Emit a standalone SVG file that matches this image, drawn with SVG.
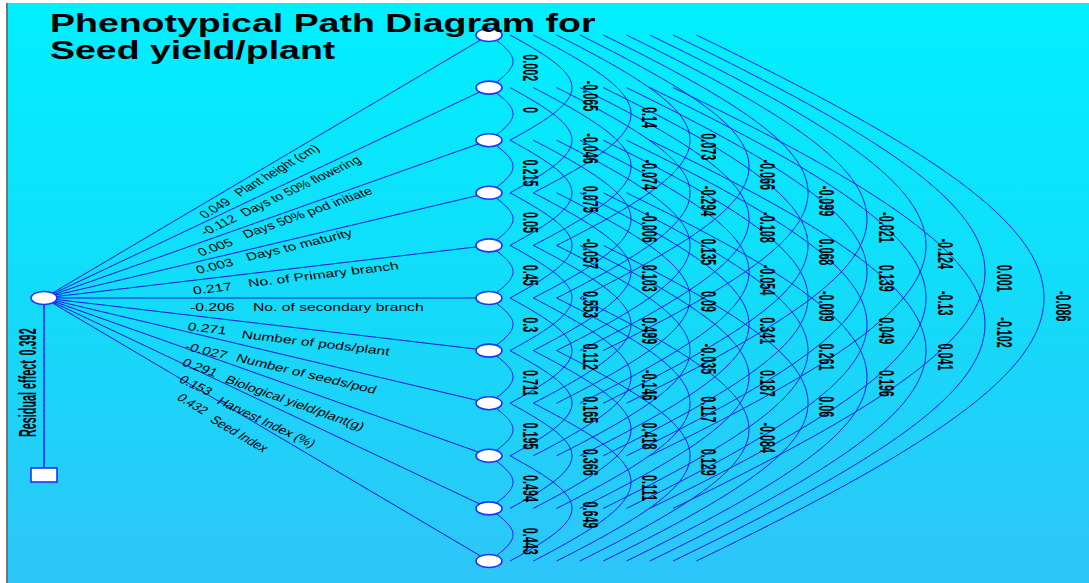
<svg xmlns="http://www.w3.org/2000/svg" width="1089" height="583" viewBox="0 0 1089 583">
<defs>
<linearGradient id="bg" x1="0" y1="0" x2="0" y2="1">
<stop offset="0" stop-color="#00F0FF"/>
<stop offset="0.5" stop-color="#12DCFA"/>
<stop offset="1" stop-color="#2EC5F8"/>
</linearGradient>
<style>
.arc{fill:none;stroke:#1c1ce8;stroke-width:1;stroke-linejoin:round}
.fan{fill:none;stroke:#1414e0;stroke-width:1}
.node{fill:#fff;stroke:#1a34ff;stroke-width:1.6}
.lbl{font-family:"Liberation Sans",Arial,sans-serif;font-size:22px;font-weight:bold;fill:#000}
.side{font-family:"Liberation Sans",Arial,sans-serif;font-size:11.2px;fill:#000}
.title{font-family:"Liberation Sans",Arial,sans-serif;font-size:25.5px;font-weight:bold;fill:#000}
.res{font-family:"Liberation Sans",Arial,sans-serif;font-size:23px;font-weight:bold;fill:#000}
</style>
</defs>
<rect x="0" y="0" width="1089" height="583" fill="#fff"/>
<rect x="8" y="3" width="1081" height="580" fill="url(#bg)"/>
<line x1="7" y1="3" x2="7" y2="583" stroke="#444" stroke-width="1.5"/>

<g id="connectors">
<path class="arc" d="M489 35c32 22.4 32 30.2 0 52.6c32 22.4 32 30.2 0 52.6c32 22.4 32 30.2 0 52.6c32 22.4 32 30.2 0 52.6c32 22.4 32 30.2 0 52.6c32 22.4 32 30.2 0 52.6c32 22.4 32 30.2 0 52.6c32 22.4 32 30.2 0 52.6c32 22.4 32 30.2 0 52.6c32 22.4 32 30.2 0 52.6"/>
<path class="arc" d="M510 35c82.7 44.7 82.7 60.5 0 105.2c82.7 44.7 82.7 60.5 0 105.2c82.7 44.7 82.7 60.5 0 105.2c82.7 44.7 82.7 60.5 0 105.2c82.7 44.7 82.7 60.5 0 105.2M510 87.6c82.7 44.7 82.7 60.5 0 105.2c82.7 44.7 82.7 60.5 0 105.2c82.7 44.7 82.7 60.5 0 105.2c82.7 44.7 82.7 60.5 0 105.2"/>
<path class="arc" d="M533.3 35c130.3 67.1 130.3 90.7 0 157.8c130.3 67.1 130.3 90.7 0 157.8c130.3 67.1 130.3 90.7 0 157.8M533.3 87.6c130.3 67.1 130.3 90.7 0 157.8c130.3 67.1 130.3 90.7 0 157.8c130.3 67.1 130.3 90.7 0 157.8M533.3 140.2c130.3 67.1 130.3 90.7 0 157.8c130.3 67.1 130.3 90.7 0 157.8"/>
<path class="arc" d="M556.6 35c177.9 89.4 177.9 121 0 210.4c177.9 89.4 177.9 121 0 210.4M556.6 87.6c177.9 89.4 177.9 121 0 210.4c177.9 89.4 177.9 121 0 210.4M556.6 140.2c177.9 89.4 177.9 121 0 210.4c177.9 89.4 177.9 121 0 210.4M556.6 192.8c177.9 89.4 177.9 121 0 210.4"/>
<path class="arc" d="M579.9 35c225.5 111.8 225.5 151.2 0 263c225.5 111.8 225.5 151.2 0 263M579.9 87.6c225.5 111.8 225.5 151.2 0 263M579.9 140.2c225.5 111.8 225.5 151.2 0 263M579.9 192.8c225.5 111.8 225.5 151.2 0 263M579.9 245.4c225.5 111.8 225.5 151.2 0 263"/>
<path class="arc" d="M603.2 35c273.1 134.1 273.1 181.5 0 315.6M603.2 87.6c273.1 134.1 273.1 181.5 0 315.6M603.2 140.2c273.1 134.1 273.1 181.5 0 315.6M603.2 192.8c273.1 134.1 273.1 181.5 0 315.6M603.2 245.4c273.1 134.1 273.1 181.5 0 315.6"/>
<path class="arc" d="M626.5 35c320.7 156.5 320.7 211.7 0 368.2M626.5 87.6c320.7 156.5 320.7 211.7 0 368.2M626.5 140.2c320.7 156.5 320.7 211.7 0 368.2M626.5 192.8c320.7 156.5 320.7 211.7 0 368.2"/>
<path class="arc" d="M649.8 35c368.3 178.8 368.3 242 0 420.8M649.8 87.6c368.3 178.8 368.3 242 0 420.8M649.8 140.2c368.3 178.8 368.3 242 0 420.8"/>
<path class="arc" d="M673.1 35c415.9 201.2 415.9 272.2 0 473.4M673.1 87.6c415.9 201.2 415.9 272.2 0 473.4"/>
<path class="arc" d="M696.4 35c463.5 223.6 463.5 302.4 0 526"/>
<path class="fan" d="M44 298L489 35M44 298L489 87.6M44 298L489 140.2M44 298L489 192.8M44 298L489 245.4M44 298L489 298M44 298L489 350.6M44 298L489 403.2M44 298L489 455.8M44 298L489 508.4M44 298L489 561"/>
<line x1="44" y1="298" x2="44" y2="468" stroke="#1a34ff" stroke-width="1.6"/>
</g>

<g id="source"><ellipse class="node" cx="44" cy="298" rx="13" ry="6.5"/></g>
<g id="residual"><rect class="node" x="31" y="468" width="26" height="14"/>
<text class="res" transform="translate(36,437) rotate(-90) scale(0.47,1)">Residual effect<tspan dx="10">0.392</tspan></text></g>

<g id="n0"><ellipse class="node" cx="489" cy="35" rx="13" ry="6.5"/></g>
<g id="n1"><ellipse class="node" cx="489" cy="87.6" rx="13" ry="6.5"/></g>
<g id="n2"><ellipse class="node" cx="489" cy="140.2" rx="13" ry="6.5"/></g>
<g id="n3"><ellipse class="node" cx="489" cy="192.8" rx="13" ry="6.5"/></g>
<g id="n4"><ellipse class="node" cx="489" cy="245.4" rx="13" ry="6.5"/></g>
<g id="n5"><ellipse class="node" cx="489" cy="298" rx="13" ry="6.5"/></g>
<g id="n6"><ellipse class="node" cx="489" cy="350.6" rx="13" ry="6.5"/></g>
<g id="n7"><ellipse class="node" cx="489" cy="403.2" rx="13" ry="6.5"/></g>
<g id="n8"><ellipse class="node" cx="489" cy="455.8" rx="13" ry="6.5"/></g>
<g id="n9"><ellipse class="node" cx="489" cy="508.4" rx="13" ry="6.5"/></g>
<g id="n10"><ellipse class="node" cx="489" cy="561" rx="13" ry="6.5"/></g>

<g id="direct-labels">
<text class="side" transform="translate(205,219) scale(1.4,1) rotate(-39.6) scale(0.88,1)">0.049</text>
<text class="side" transform="translate(240,197) scale(1.4,1) rotate(-39.6) scale(0.88,1)">Plant height (cm)</text>
<text class="side" transform="translate(205,236) scale(1.4,1) rotate(-33.5) scale(0.9,1)">-0.112</text>
<text class="side" transform="translate(245,217) scale(1.4,1) rotate(-33.5) scale(0.9,1)">Days to 50% flowering</text>
<text class="side" transform="translate(201,256.5) scale(1.4,1) rotate(-26.4) scale(0.94,1)">0.005</text>
<text class="side" transform="translate(246,238.5) scale(1.4,1) rotate(-26.4) scale(0.94,1)">Days 50% pod initiate</text>
<text class="side" transform="translate(198,274) scale(1.4,1) rotate(-18.3) scale(0.98,1)">0.003</text>
<text class="side" transform="translate(248,261) scale(1.4,1) rotate(-18.3) scale(0.98,1)">Days to maturity</text>
<text class="side" transform="translate(194,294.5) scale(1.4,1) rotate(-9.4)">0.217</text>
<text class="side" transform="translate(249,287) scale(1.4,1) rotate(-9.4)">No. of Primary branch</text>
<text class="side" transform="translate(190,311) scale(1.4,1)">-0.206</text>
<text class="side" transform="translate(253,311) scale(1.4,1)">No. of secondary branch</text>
<text class="side" transform="translate(187,330) scale(1.4,1) rotate(9.4)">0.271</text>
<text class="side" transform="translate(241,338) scale(1.4,1) rotate(9.4)">Number of pods/plant</text>
<text class="side" transform="translate(184,349.5) scale(1.4,1) rotate(18.3) scale(0.98,1)">-0.027</text>
<text class="side" transform="translate(235,361) scale(1.4,1) rotate(18.3) scale(0.98,1)">Number of seeds/pod</text>
<text class="side" transform="translate(181,365) scale(1.4,1) rotate(26.4) scale(0.95,1)">0.291</text>
<text class="side" transform="translate(224,382) scale(1.4,1) rotate(26.4) scale(0.95,1)">Biological yield/plant(g)</text>
<text class="side" transform="translate(178,381.5) scale(1.4,1) rotate(33.5) scale(0.91,1)">0.153</text>
<text class="side" transform="translate(216,403) scale(1.4,1) rotate(33.5) scale(0.91,1)">Harvest Index (%)</text>
<text class="side" transform="translate(176,399) scale(1.4,1) rotate(39.6) scale(0.88,1)">0.432</text>
<text class="side" transform="translate(209,421) scale(1.4,1) rotate(39.6) scale(0.88,1)">Seed Index</text>
</g>

<g id="correlation-labels">
<text class="lbl" transform="translate(523.3,54.3) rotate(90) scale(0.49,1)">0.002</text>
<text class="lbl" transform="translate(523.3,106.9) rotate(90) scale(0.49,1)">0</text>
<text class="lbl" transform="translate(523.3,159.5) rotate(90) scale(0.49,1)">0.215</text>
<text class="lbl" transform="translate(523.3,212.1) rotate(90) scale(0.49,1)">0.05</text>
<text class="lbl" transform="translate(523.3,264.7) rotate(90) scale(0.49,1)">0.45</text>
<text class="lbl" transform="translate(523.3,317.3) rotate(90) scale(0.49,1)">0.3</text>
<text class="lbl" transform="translate(523.3,369.9) rotate(90) scale(0.49,1)">0.711</text>
<text class="lbl" transform="translate(523.3,422.5) rotate(90) scale(0.49,1)">0.195</text>
<text class="lbl" transform="translate(523.3,475.1) rotate(90) scale(0.49,1)">0.494</text>
<text class="lbl" transform="translate(523.3,527.7) rotate(90) scale(0.49,1)">0.443</text>

<text class="lbl" transform="translate(582.5,80.6) rotate(90) scale(0.49,1)">-0.065</text>
<text class="lbl" transform="translate(582.5,133.2) rotate(90) scale(0.49,1)">-0.046</text>
<text class="lbl" transform="translate(582.5,185.8) rotate(90) scale(0.49,1)">0.075</text>
<text class="lbl" transform="translate(582.5,238.4) rotate(90) scale(0.49,1)">-0.057</text>
<text class="lbl" transform="translate(582.5,291) rotate(90) scale(0.49,1)">0.553</text>
<text class="lbl" transform="translate(582.5,343.6) rotate(90) scale(0.49,1)">0.112</text>
<text class="lbl" transform="translate(582.5,396.2) rotate(90) scale(0.49,1)">0.165</text>
<text class="lbl" transform="translate(582.5,448.8) rotate(90) scale(0.49,1)">0.366</text>
<text class="lbl" transform="translate(582.5,501.4) rotate(90) scale(0.49,1)">0.649</text>

<text class="lbl" transform="translate(641.7,106.9) rotate(90) scale(0.49,1)">0.14</text>
<text class="lbl" transform="translate(641.7,159.5) rotate(90) scale(0.49,1)">-0.074</text>
<text class="lbl" transform="translate(641.7,212.1) rotate(90) scale(0.49,1)">-0.006</text>
<text class="lbl" transform="translate(641.7,264.7) rotate(90) scale(0.49,1)">0.103</text>
<text class="lbl" transform="translate(641.7,317.3) rotate(90) scale(0.49,1)">0.499</text>
<text class="lbl" transform="translate(641.7,369.9) rotate(90) scale(0.49,1)">-0.146</text>
<text class="lbl" transform="translate(641.7,422.5) rotate(90) scale(0.49,1)">0.418</text>
<text class="lbl" transform="translate(641.7,475.1) rotate(90) scale(0.49,1)">0.111</text>

<text class="lbl" transform="translate(700.9,133.2) rotate(90) scale(0.49,1)">0.073</text>
<text class="lbl" transform="translate(700.9,185.8) rotate(90) scale(0.49,1)">-0.294</text>
<text class="lbl" transform="translate(700.9,238.4) rotate(90) scale(0.49,1)">0.135</text>
<text class="lbl" transform="translate(700.9,291) rotate(90) scale(0.49,1)">0.09</text>
<text class="lbl" transform="translate(700.9,343.6) rotate(90) scale(0.49,1)">-0.035</text>
<text class="lbl" transform="translate(700.9,396.2) rotate(90) scale(0.49,1)">0.117</text>
<text class="lbl" transform="translate(700.9,448.8) rotate(90) scale(0.49,1)">0.129</text>

<text class="lbl" transform="translate(760.1,159.5) rotate(90) scale(0.49,1)">-0.066</text>
<text class="lbl" transform="translate(760.1,212.1) rotate(90) scale(0.49,1)">-0.108</text>
<text class="lbl" transform="translate(760.1,264.7) rotate(90) scale(0.49,1)">-0.054</text>
<text class="lbl" transform="translate(760.1,317.3) rotate(90) scale(0.49,1)">0.341</text>
<text class="lbl" transform="translate(760.1,369.9) rotate(90) scale(0.49,1)">0.187</text>
<text class="lbl" transform="translate(760.1,422.5) rotate(90) scale(0.49,1)">-0.084</text>

<text class="lbl" transform="translate(819.3,185.8) rotate(90) scale(0.49,1)">-0.099</text>
<text class="lbl" transform="translate(819.3,238.4) rotate(90) scale(0.49,1)">0.068</text>
<text class="lbl" transform="translate(819.3,291) rotate(90) scale(0.49,1)">-0.009</text>
<text class="lbl" transform="translate(819.3,343.6) rotate(90) scale(0.49,1)">0.261</text>
<text class="lbl" transform="translate(819.3,396.2) rotate(90) scale(0.49,1)">0.06</text>

<text class="lbl" transform="translate(878.5,212.1) rotate(90) scale(0.49,1)">-0.021</text>
<text class="lbl" transform="translate(878.5,264.7) rotate(90) scale(0.49,1)">0.139</text>
<text class="lbl" transform="translate(878.5,317.3) rotate(90) scale(0.49,1)">0.049</text>
<text class="lbl" transform="translate(878.5,369.9) rotate(90) scale(0.49,1)">0.196</text>

<text class="lbl" transform="translate(937.7,238.4) rotate(90) scale(0.49,1)">-0.124</text>
<text class="lbl" transform="translate(937.7,291) rotate(90) scale(0.49,1)">-0.13</text>
<text class="lbl" transform="translate(937.7,343.6) rotate(90) scale(0.49,1)">0.041</text>

<text class="lbl" transform="translate(996.9,264.7) rotate(90) scale(0.49,1)">0.001</text>
<text class="lbl" transform="translate(996.9,317.3) rotate(90) scale(0.49,1)">-0.102</text>

<text class="lbl" transform="translate(1056.1,291) rotate(90) scale(0.49,1)">-0.086</text>
</g>

<g id="title">
<text class="title" transform="translate(50,0) scale(1.47,1)"><tspan x="0" y="32">Phenotypical Path Diagram for</tspan><tspan x="0" y="59">Seed yield/plant</tspan></text>
</g>
</svg>
